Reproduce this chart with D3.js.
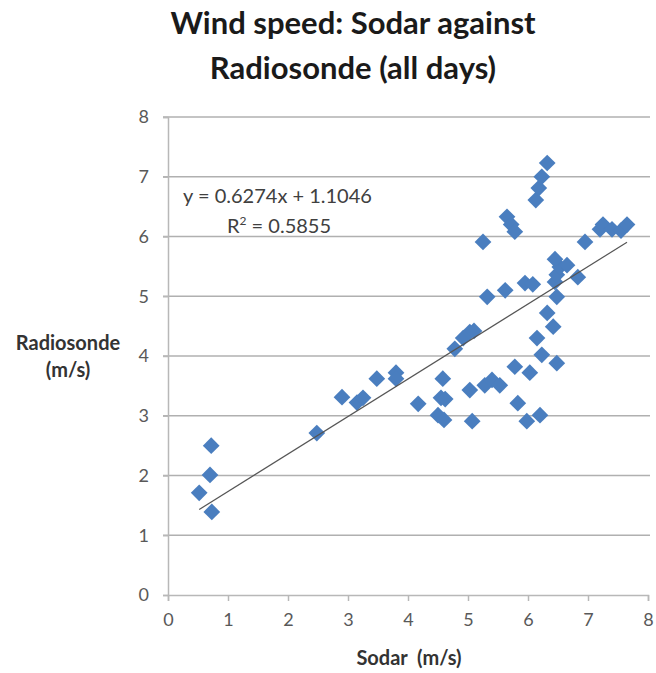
<!DOCTYPE html>
<html>
<head>
<meta charset="utf-8">
<script src="https://cdn.jsdelivr.net/npm/d3@7"></script>
<style>
  body { margin: 0; background: #fff; }
  text { font-family: Lato, "Open Sans", sans-serif; }
</style>
</head>
<body>
<div id="chart"></div>
<script>
//data (m/s)
let sodar = [0.52, 0.70, 0.72, 0.73, 2.48, 2.90, 3.15, 3.25, 3.48, 3.80, 3.80, 4.17,
             4.58, 4.55, 4.62, 4.50, 4.60, 5.03, 5.07, 5.28, 5.40, 5.53, 5.78, 6.03,
             5.83, 5.98, 6.20, 6.23, 6.48, 6.15, 6.42, 6.32, 4.78, 4.92, 5.03, 5.10,
             5.32, 5.62, 5.95, 6.08, 6.48, 6.45, 6.48, 6.53, 6.65, 6.45, 6.83, 5.25,
             6.95, 5.65, 5.72, 5.78, 6.13, 6.18, 6.23, 6.32, 7.20, 7.25, 7.40, 7.55, 7.65];
let radiosonde = [1.71, 2.01, 2.50, 1.39, 2.71, 3.31, 3.22, 3.30, 3.62, 3.72, 3.62, 3.20,
                  3.62, 3.30, 3.28, 3.01, 2.93, 3.43, 2.91, 3.51, 3.60, 3.51, 3.82, 3.72,
                  3.21, 2.91, 3.01, 4.02, 3.88, 4.30, 4.49, 4.72, 4.12, 4.30, 4.40, 4.42,
                  4.99, 5.10, 5.22, 5.20, 4.99, 5.24, 5.36, 5.49, 5.52, 5.62, 5.32, 5.91,
                  5.91, 6.33, 6.20, 6.08, 6.61, 6.81, 7.00, 7.23, 6.12, 6.20, 6.12, 6.10, 6.20];
let xTicks = [0, 1, 2, 3, 4, 5, 6, 7, 8];
let yTicks = [0, 1, 2, 3, 4, 5, 6, 7, 8];
let trendSlope = 0.6274;
let trendIntercept = 1.1046;
let trendText = "y = 0.6274x + 1.1046";
let r2Value = "0.5855";
let titleLines = ["Wind speed: Sodar against", "Radiosonde (all days)"];

let width = 656, height = 673;
let margin = {top: 117, right: 8, bottom: 78, left: 168};

let points = sodar.map(function(d, i) { return [d, radiosonde[i]] });

let svg = d3.select("#chart")
            .append("svg")
            .attr("width", width)
            .attr("height", height);

let plot = svg.append("g")
              .attr("transform", `translate(${margin.left},${margin.top})`);

let pw = width - margin.left - margin.right;
let ph = height - margin.top - margin.bottom;

let x = d3.scaleLinear().domain([0, 8]).range([0, pw]);
let y = d3.scaleLinear().domain([0, 8]).range([ph, 0]);

//gridlines
plot.append("g")
    .selectAll("line")
    .data(yTicks.filter(function(d) { return d > 0 }))
    .enter()
    .append("line")
    .attr("x1", -5)
    .attr("x2", pw + 2)
    .attr("y1", function(d) { return y(d) })
    .attr("y2", function(d) { return y(d) })
    .attr("stroke", "#b0b0b0")
    .attr("stroke-width", 1.5);

//y axis
let yAxis = plot.append("g")
    .call(d3.axisLeft(y).tickValues(yTicks).tickSize(5).tickPadding(14));
yAxis.select(".domain").attr("stroke", "#b8b8b8").attr("stroke-width", 1.5);
yAxis.selectAll(".tick line").attr("stroke", "#b8b8b8").attr("stroke-width", 1.5);
yAxis.selectAll(".tick text")
     .attr("fill", "#595959")
     .style("font-size", "18px");

//x axis
let xAxis = plot.append("g")
    .attr("transform", `translate(0,${ph})`)
    .call(d3.axisBottom(x).tickValues(xTicks).tickSize(6).tickPadding(12));
xAxis.select(".domain").attr("stroke", "#b8b8b8").attr("stroke-width", 1.5);
xAxis.selectAll(".tick line").attr("stroke", "#b8b8b8").attr("stroke-width", 1.5);
xAxis.selectAll(".tick text")
     .attr("fill", "#595959")
     .style("font-size", "18px");

//markers (diamonds)
let diamond = d3.symbol().type(d3.symbolSquare).size(140);
plot.append("g")
    .selectAll("path")
    .data(points)
    .enter()
    .append("path")
    .attr("d", diamond)
    .attr("transform", function(d) { return `translate(${x(d[0])},${y(d[1])}) rotate(45)` })
    .attr("fill", "#4a7ebf");

//linear trendline over the data range
let xExt = d3.extent(sodar);
plot.append("line")
    .attr("x1", x(xExt[0]))
    .attr("y1", y(trendSlope * xExt[0] + trendIntercept))
    .attr("x2", x(xExt[1]))
    .attr("y2", y(trendSlope * xExt[1] + trendIntercept))
    .attr("stroke", "#555")
    .attr("stroke-width", 1.2);

//equation label
svg.append("text")
   .attr("x", 183)
   .attr("y", 203)
   .attr("fill", "#404040")
   .style("font-size", "20px")
   .text(trendText);

let r2 = svg.append("text")
   .attr("x", 227)
   .attr("y", 233)
   .attr("fill", "#404040")
   .style("font-size", "20px");
r2.append("tspan").text("R");
r2.append("tspan").attr("dy", -8).style("font-size", "12px").text("2");
r2.append("tspan").attr("dy", 8).text(" = " + r2Value);

//title
svg.append("g")
   .selectAll("text")
   .data(titleLines)
   .enter()
   .append("text")
   .attr("x", 353)
   .attr("y", function(d, i) { return 34 + i * 45 })
   .attr("text-anchor", "middle")
   .attr("fill", "#1a1a1a")
   .style("font-size", "31px")
   .style("font-weight", "bold")
   .text(function(d) { return d });

//axis titles
svg.append("text")
   .attr("x", 68)
   .attr("y", 350)
   .attr("text-anchor", "middle")
   .attr("fill", "#333")
   .style("font-size", "20px")
   .style("font-weight", "bold")
   .text("Radiosonde");
svg.append("text")
   .attr("x", 68)
   .attr("y", 377)
   .attr("text-anchor", "middle")
   .attr("fill", "#333")
   .style("font-size", "20px")
   .style("font-weight", "bold")
   .text("(m/s)");

svg.append("text")
   .attr("x", 409)
   .attr("y", 665)
   .attr("text-anchor", "middle")
   .attr("fill", "#333")
   .style("font-size", "20px")
   .style("font-weight", "bold")
   .style("white-space", "pre")
   .text("Sodar  (m/s)");
</script>
</body>
</html>
